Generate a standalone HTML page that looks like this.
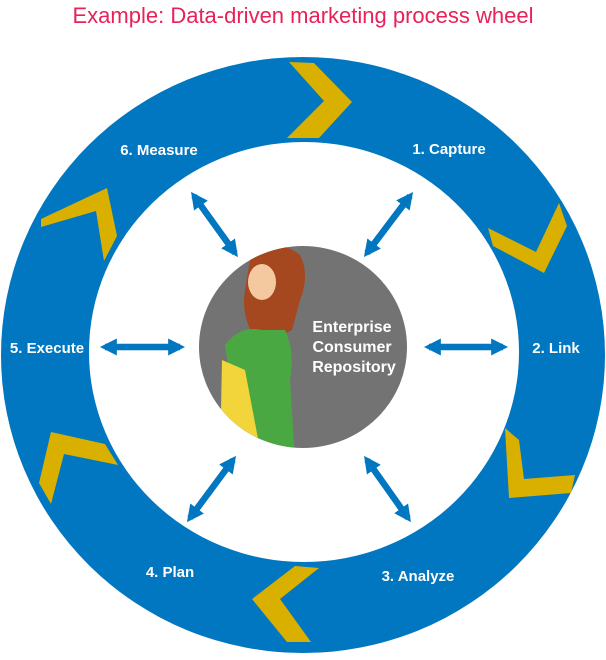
<!DOCTYPE html>
<html><head><style>
html,body{margin:0;padding:0;background:#fff;}
svg{display:block;}
text{font-family:"Liberation Sans",Arial,sans-serif;}
</style></head><body>
<svg width="606" height="660" viewBox="0 0 606 660" xmlns="http://www.w3.org/2000/svg">
<text x="303" y="23" text-anchor="middle" font-size="22" fill="#e8215a">Example: Data-driven marketing process wheel</text>
<ellipse cx="303" cy="355" rx="302" ry="298" fill="#0077c0"/>
<ellipse cx="304" cy="352" rx="215" ry="210" fill="#fff"/>
<g fill="#d9b000">
<polygon points="289,62 314,63 352,102 319,138 287,138 324,101"/>
<polygon points="488,228 536,252 559,203 567,226 544,273 493,246"/>
<polygon points="505,428 519,440 524,479 575,475 571,493 509,498"/>
<polygon points="319,568 280,599 311,642 287,642 252,599 295,566"/>
<polygon points="51,432 105,444 118,465 64,454 51,504 39,483"/>
<polygon points="41,219 107,188 117,236 104,261 96,211 41,227"/>
</g>
<defs>
<marker id="a" viewBox="0 0 10 10" refX="7" refY="5" markerWidth="2.6" markerHeight="2.6" orient="auto-start-reverse"><path d="M0,0L10,5L0,10z" fill="#0077c0"/></marker>
</defs>
<g stroke="#0077c0" stroke-width="6.5" marker-start="url(#a)" marker-end="url(#a)">
<line x1="194" y1="196" x2="235" y2="253"/>
<line x1="410" y1="196" x2="367" y2="253"/>
<line x1="105" y1="347" x2="180" y2="347"/>
<line x1="429" y1="347" x2="503" y2="347"/>
<line x1="233" y1="460" x2="190" y2="518"/>
<line x1="367" y1="460" x2="408" y2="518"/>
</g>
<ellipse cx="303" cy="347" rx="104" ry="101" fill="#737373"/>
<clipPath id="c"><ellipse cx="303" cy="347" rx="104" ry="101"/></clipPath>
<g clip-path="url(#c)">
<path d="M250,260 Q275,235 300,255 Q310,275 300,300 L292,330 L260,345 Q240,320 245,290z" fill="#a5471f"/>
<ellipse cx="262" cy="282" rx="14" ry="18" fill="#f4c9a0"/>
<path d="M225,345 Q240,325 262,330 L285,330 Q295,350 290,380 L295,460 L235,460 Q225,420 230,380z" fill="#4aa843"/>
<path d="M222,360 L245,370 L262,460 L220,460z" fill="#f1d53a"/>
</g>
<g font-weight="bold" font-size="16" fill="#fff" text-anchor="middle">
<text x="352" y="332">Enterprise</text>
<text x="352" y="352">Consumer</text>
<text x="354" y="372">Repository</text>
<text x="159" y="155" font-size="15">6. Measure</text>
<text x="449" y="154" font-size="15">1. Capture</text>
<text x="47" y="353" font-size="15">5. Execute</text>
<text x="556" y="353" font-size="15">2. Link</text>
<text x="170" y="577" font-size="15">4. Plan</text>
<text x="418" y="581" font-size="15">3. Analyze</text>
</g>
</svg>
</body></html>
